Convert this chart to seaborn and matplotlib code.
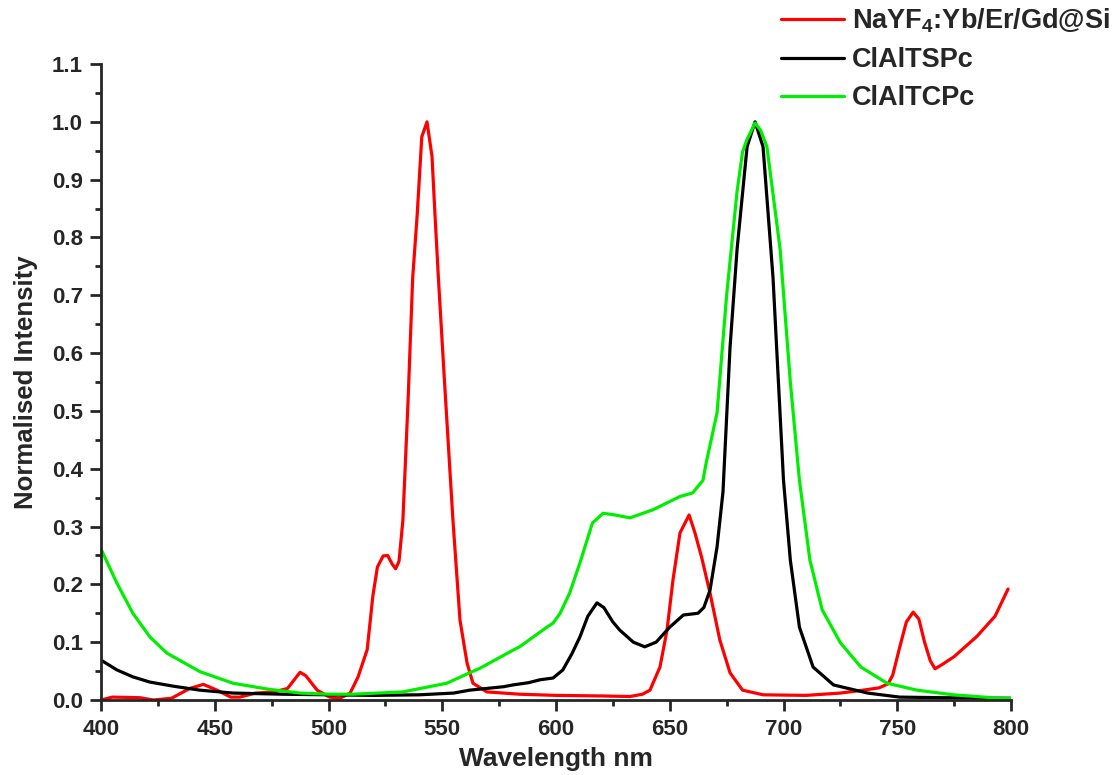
import matplotlib
matplotlib.use("Agg")
import matplotlib.pyplot as plt
import seaborn as sns
import pandas as pd
from matplotlib.ticker import MultipleLocator
from matplotlib.lines import Line2D

# ---------------- data ----------------
red_wl = [400, 405, 417, 423, 431, 439, 445, 451, 457, 461, 468, 476, 482, 487.5, 490, 495,
          500.5, 505, 509.5, 513, 517, 519.5, 521.5, 524, 526, 528, 529.5, 531, 532.7, 535,
          537, 539, 541, 543.3, 545.5, 546.8, 548.3, 551, 554.7, 557.8, 560.9, 563.5, 569.6,
          584, 600, 620, 632.5, 638, 641.3, 645.7, 648.8, 651.4, 654.5, 658.5, 661, 664,
          667.7, 672, 676.5, 682, 691, 710, 725, 735, 742, 746, 748, 751, 754, 757, 759.5,
          762, 764.5, 766.6, 770, 775, 785, 793, 798.7]
red_val = [0.0, 0.005, 0.004, 0.0, 0.003, 0.02, 0.027, 0.017, 0.005, 0.005, 0.012, 0.014, 0.02,
           0.048, 0.042, 0.017, 0.005, 0.003, 0.012, 0.04, 0.087, 0.18, 0.23, 0.249, 0.25,
           0.235, 0.227, 0.24, 0.311, 0.52, 0.73, 0.84, 0.974, 1.0, 0.94, 0.84, 0.73, 0.55,
           0.311, 0.138, 0.064, 0.029, 0.014, 0.01, 0.008, 0.007, 0.006, 0.01, 0.017, 0.057,
           0.121, 0.207, 0.289, 0.32, 0.29, 0.247, 0.185, 0.104, 0.047, 0.017, 0.009, 0.008,
           0.012, 0.017, 0.021, 0.028, 0.043, 0.09, 0.135, 0.152, 0.14, 0.1, 0.068, 0.054,
           0.062, 0.075, 0.11, 0.145, 0.192]

black_wl = [400, 407, 414, 421.5, 431.6, 443.5, 458, 480, 500, 520, 540, 555, 562, 567, 577,
            581, 588, 593, 598.7, 603, 607, 610.5, 614, 618, 621, 625, 628, 634, 639, 644,
            650, 656, 662.4, 665, 667.7, 670.8, 673.4, 676.5, 679.6, 684, 687.5, 691, 695.4,
            700, 703, 707, 713, 722, 737, 751, 770, 800]
black_val = [0.069, 0.052, 0.04, 0.031, 0.024, 0.017, 0.012, 0.01, 0.009, 0.008, 0.009, 0.012,
             0.017, 0.019, 0.023, 0.026, 0.03, 0.035, 0.038, 0.052, 0.08, 0.109, 0.145, 0.168,
             0.16, 0.135, 0.121, 0.1, 0.092, 0.1, 0.126, 0.147, 0.15, 0.16, 0.19, 0.265, 0.36,
             0.61, 0.78, 0.957, 1.0, 0.957, 0.73, 0.38, 0.242, 0.126, 0.057, 0.026, 0.012,
             0.005, 0.004, 0.003]

green_wl = [400, 407, 414, 421.5, 429, 443.5, 458, 473, 487.5, 500, 510.8, 532.7, 552, 562,
            566.6, 581, 584, 596, 598.7, 601.8, 606, 610.5, 616, 620.7, 626, 632.5, 642.6,
            654.5, 660, 664.6, 666, 670.8, 675, 679.6, 682, 684, 687.5, 690, 692.7, 698.5,
            703, 707, 711.6, 717, 725, 734, 745.5, 758.7, 774.5, 795, 800]
green_val = [0.261, 0.202, 0.15, 0.109, 0.081, 0.049, 0.029, 0.019, 0.012, 0.01, 0.01, 0.014,
             0.029, 0.047, 0.055, 0.086, 0.092, 0.126, 0.133, 0.15, 0.185, 0.237, 0.306, 0.323,
             0.32, 0.315, 0.329, 0.352, 0.358, 0.38, 0.41, 0.497, 0.70, 0.88, 0.948, 0.97,
             0.998, 0.985, 0.957, 0.78, 0.55, 0.38, 0.242, 0.156, 0.099, 0.057, 0.029, 0.017,
             0.009, 0.003, 0.003]

series_names = [r"NaYF$_\mathbf{4}$:Yb/Er/Gd@Si", "ClAlTSPc", "ClAlTCPc"]
series_colors = ["#ff0000", "#000000", "#00ee00"]
x_ticks = [400, 450, 500, 550, 600, 650, 700, 750, 800]
y_ticks = [0.0, 0.1, 0.2, 0.3, 0.4, 0.5, 0.6, 0.7, 0.8, 0.9, 1.0, 1.1]

df = pd.concat([
    pd.DataFrame({"wl": red_wl, "val": red_val, "series": series_names[0]}),
    pd.DataFrame({"wl": black_wl, "val": black_val, "series": series_names[1]}),
    pd.DataFrame({"wl": green_wl, "val": green_val, "series": series_names[2]}),
], ignore_index=True)

# ---------------- style ----------------
sns.set_style("ticks")
plt.rcParams["font.family"] = ["Liberation Sans", "DejaVu Sans"]
plt.rcParams["font.weight"] = "bold"
plt.rcParams["mathtext.fontset"] = "custom"
plt.rcParams["mathtext.rm"] = "Liberation Sans:bold"
plt.rcParams["mathtext.bf"] = "Liberation Sans:bold"
plt.rcParams["mathtext.default"] = "bf"

fig = plt.figure(figsize=(11.12, 7.75), dpi=100)
ax = fig.add_axes([101 / 1112, 1 - 700 / 775, 910 / 1112, 636 / 775])

sns.lineplot(data=df, x="wl", y="val", hue="series", palette=series_colors,
             hue_order=series_names, ax=ax, linewidth=2.3, sort=False, legend=False,
             estimator=None)

ax.set_xlim(400, 800)
ax.set_ylim(0, 1.1)
ax.set_xticks(x_ticks)
ax.set_yticks(y_ticks)
ax.set_yticklabels([f"{v:.1f}" for v in y_ticks])
ax.xaxis.set_minor_locator(MultipleLocator(25))
ax.yaxis.set_minor_locator(MultipleLocator(0.05))
ax.tick_params(which="major", direction="out", length=8, width=2, labelsize=16)
ax.tick_params(which="minor", direction="out", length=4.5, width=2)
ax.tick_params(axis="x", which="major", pad=6)
ax.tick_params(axis="y", which="major", pad=5)
for s in ["top", "right"]:
    ax.spines[s].set_visible(False)
for s in ["left", "bottom"]:
    ax.spines[s].set_linewidth(2)
for lab in ax.get_xticklabels() + ax.get_yticklabels():
    lab.set_fontweight("bold")

ax.set_xlabel("Wavelength nm", fontsize=19, fontweight="bold", labelpad=5)
ax.set_ylabel("Normalised Intensity", fontsize=18.5, fontweight="bold", labelpad=10)

handles = [Line2D([], [], color=c, linewidth=2.3) for c in series_colors]
fig.legend(handles, series_names, loc="upper left", bbox_to_anchor=(757 / 1112, 1.023),
           frameon=False, handlelength=2.3, handletextpad=0.3,
           labelspacing=0.45, prop={"weight": "bold", "size": 19.5})

fig.savefig("out.png", dpi=100)
